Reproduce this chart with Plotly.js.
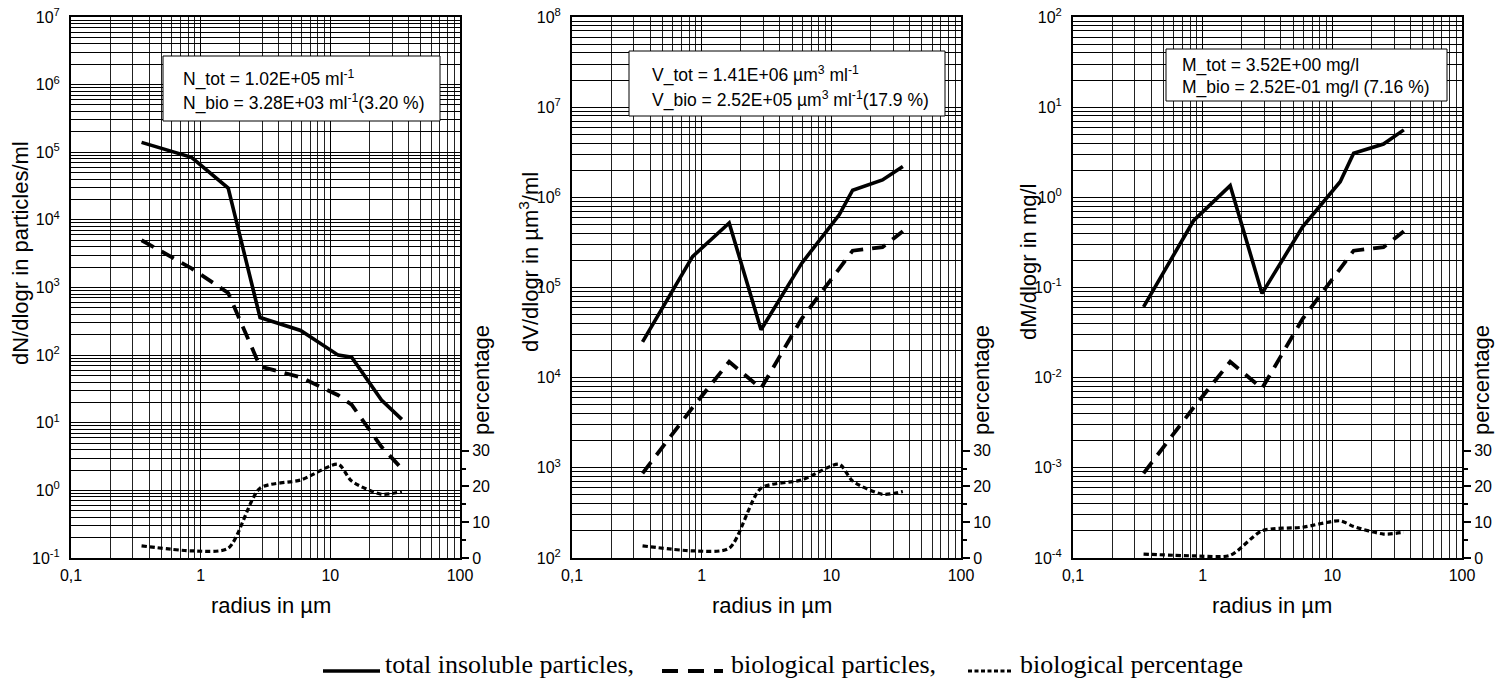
<!DOCTYPE html>
<html><head><meta charset="utf-8">
<script src="https://cdn.plot.ly/plotly-3.0.1.min.js"></script>
<style>html,body{margin:0;padding:0;background:#fff}#chart{width:1502px;height:682px}</style>
</head><body><div id="chart"></div>
<script>
// ---- data ----
const radius = [0.35, 0.85, 1.63, 2.87, 5.9, 11.5, 14.6, 24.8, 35.6];
const numberTotal = [1.4e5, 8.4e4, 2.95e4, 360, 232, 100, 93, 21.7, 11.2];
const numberBio   = [5000, 1920, 830, 68, 47, 25.5, 18.5, 4.4, 2.1];
const numberPct   = [3.4, 2.0, 2.7, 19.5, 21.8, 26.2, 21.5, 17.8, 18.6];
const volumeTotal = [2.5e4, 2.2e5, 5.2e5, 3.4e4, 1.85e5, 6.4e5, 1.2e6, 1.56e6, 2.2e6];
const volumeBio   = [870, 4650, 1.5e4, 7600, 4.5e4, 1.6e5, 2.56e5, 2.8e5, 4.2e5];
const volumePct   = [3.4, 2.0, 2.7, 19.5, 21.8, 26.2, 21.5, 17.8, 18.6];
const massTotal   = [0.061, 0.55, 1.35, 0.086, 0.47, 1.49, 3.08, 3.9, 5.6];
const massBio     = [8.7e-4, 4.65e-3, 0.015, 7.6e-3, 0.045, 0.16, 0.256, 0.28, 0.42];
const massPct     = [1.1, 0.6, 0.75, 7.6, 8.6, 10.4, 8.8, 6.7, 7.2];

const xTickVals = [0.1, 1, 10, 100];
const xTickText = ["0,1", "1", "10", "100"];
const pctTickVals = [0, 10, 20, 30];
const pctMinorVals = [5, 15, 25];
const seriesNames = ["total insoluble particles,", "biological particles,", "biological percentage"];
const yTitles = ["dN/dlogr in particles/ml", "dV/dlogr in µm<sup>3</sup>/ml", "dM/dlogr in mg/l"];
const xTitle = "radius in µm";
const pctTitle = "percentage";
const boxLines = [
  ["N_tot = 1.02E+05 ml<sup>-1</sup>", "N_bio = 3.28E+03 ml<sup>-1</sup>(3.20 %)"],
  ["V_tot = 1.41E+06 µm<sup>3</sup> ml<sup>-1</sup>", "V_bio = 2.52E+05 µm<sup>3</sup> ml<sup>-1</sup>(17.9 %)"],
  ["M_tot = 3.52E+00 mg/l", "M_bio = 2.52E-01 mg/l (7.16 %)"]
];
const decadeRanges = [[-1, 7], [2, 8], [-4, 2]];

// ---- layout helpers ----
const W = 1502, H = 682;
const px = x => x / W, py = y => 1 - y / H;
const SANS = "Liberation Sans, Arial, sans-serif";
const SERIF = "Liberation Serif, Times New Roman, serif";
const panels = [
  {x0: 71, x1: 460, tot: numberTotal, bio: numberBio, pct: numberPct},
  {x0: 572, x1: 961, tot: volumeTotal, bio: volumeBio, pct: volumePct},
  {x0: 1073, x1: 1462, tot: massTotal, bio: massBio, pct: massPct}
];
const yTop = 17, yBot = 558;
const boxes = [
  {x0: 163, x1: 440, y0: 56, y1: 121, tx: 181, l1: 78, l2: 103},
  {x0: 629, x1: 945, y0: 51, y1: 116, tx: 650, l1: 74, l2: 100},
  {x0: 1166, x1: 1447, y0: 49, y1: 101, tx: 1180, l1: 65, l2: 87}
];
const yTitlePos = [[20, 253], [529, 262], [1028, 262]];
const pctTitleX = [482, 982, 1482];
const xTitleX = [271, 772, 1272];

const DASH_BIO = "14px,9px";
const DASH_PCT = "5px,3px";
// legend: [sample x0, sample x1, text x, dash, width]
const legendItems = [
  [323, 380, 383, "solid", 3.5],
  [662, 723, 729, "16px,10px", 4],
  [968, 1011, 1018, "4px,2.5px", 3]
];
const legendLineY = 671;
const legendTextY = 664;

function minorLog(r) {
  const v = [];
  for (let e = r[0]; e < r[1]; e++) for (let k = 2; k <= 9; k++) v.push(k * Math.pow(10, e));
  return v;
}
function majorLog(r) {
  const v = [], t = [];
  for (let e = r[0]; e <= r[1]; e++) { v.push(Math.pow(10, e)); t.push("10<sup>" + e + "</sup>"); }
  return [v, t];
}

const traces = [];
const layout = {
  width: W, height: H,
  margin: {l: 0, r: 0, t: 0, b: 0},
  paper_bgcolor: "#fff", plot_bgcolor: "#fff",
  font: {family: SANS, color: "#000", size: 16},
  showlegend: false,
  shapes: [], annotations: []
};

panels.forEach((p, i) => {
  const n = i + 1;
  const xa = i === 0 ? "x" : "x" + n;
  const ya = i === 0 ? "y" : "y" + n;
  const yp = "y" + (n + 3);
  const [mv, mt] = majorLog(decadeRanges[i]);
  layout[i === 0 ? "xaxis" : "xaxis" + n] = {
    type: "log", domain: [px(p.x0), px(p.x1)], range: [-1, 2], anchor: ya,
    tickmode: "array", tickvals: xTickVals, ticktext: xTickText, ticks: "",
    tickfont: {size: 16, family: SANS}, ticklabelstandoff: 2,
    showgrid: true, gridcolor: "#000", gridwidth: 1,
    minor: {tickmode: "array", tickvals: minorLog([-1, 2]), showgrid: true, gridcolor: "#222", gridwidth: 1, ticks: ""},
    showline: true, linecolor: "#000", linewidth: 2, mirror: true, zeroline: false
  };
  layout[i === 0 ? "yaxis" : "yaxis" + n] = {
    type: "log", domain: [py(yBot), py(yTop)], range: decadeRanges[i], anchor: xa,
    tickmode: "array", tickvals: mv, ticktext: mt, ticks: "",
    tickfont: {size: 16, family: SANS}, ticklabelstandoff: 6,
    showgrid: true, gridcolor: "#000", gridwidth: 1,
    minor: {tickmode: "array", tickvals: minorLog(decadeRanges[i]), showgrid: true, gridcolor: "#000", gridwidth: 1, ticks: ""},
    showline: true, linecolor: "#000", linewidth: 2, mirror: true, zeroline: false
  };
  layout["yaxis" + (n + 3)] = {
    overlaying: ya, side: "right", anchor: xa, range: [0, 151.25],
    tickmode: "array", tickvals: pctTickVals, ticks: "outside", ticklen: 7, tickwidth: 2, tickcolor: "#000",
    minor: {tickmode: "array", tickvals: pctMinorVals, ticks: "outside", ticklen: 4, tickwidth: 2, tickcolor: "#000"},
    tickfont: {size: 16, family: SANS}, showgrid: false, zeroline: false,
    showline: true, linecolor: "#000", linewidth: 2
  };

  traces.push({x: radius, y: p.tot, xaxis: xa, yaxis: ya, mode: "lines", name: seriesNames[0],
    line: {color: "#000", width: 3.6}});
  traces.push({x: radius, y: p.bio, xaxis: xa, yaxis: ya, mode: "lines", name: seriesNames[1],
    line: {color: "#000", width: 3.8, dash: DASH_BIO}});
  traces.push({x: radius, y: p.pct, xaxis: xa, yaxis: yp, mode: "lines", name: seriesNames[2],
    line: {color: "#000", width: 3.2, dash: DASH_PCT, shape: "spline", smoothing: 0.7}});

  const b = boxes[i];
  layout.shapes.push({type: "rect", xref: "paper", yref: "paper", x0: px(b.x0), x1: px(b.x1), y0: py(b.y1), y1: py(b.y0),
    fillcolor: "#fff", line: {color: "#000", width: 1}, layer: "above"});
  layout.annotations.push({xref: "paper", yref: "paper", x: px(b.tx), y: py(b.l1), xanchor: "left", yanchor: "middle",
    text: boxLines[i][0], showarrow: false, font: {size: 17.5, family: SANS, color: "#000"}});
  layout.annotations.push({xref: "paper", yref: "paper", x: px(b.tx), y: py(b.l2), xanchor: "left", yanchor: "middle",
    text: boxLines[i][1], showarrow: false, font: {size: 17.5, family: SANS, color: "#000"}});
  layout.annotations.push({xref: "paper", yref: "paper", x: px(yTitlePos[i][0]), y: py(yTitlePos[i][1]),
    xanchor: "center", yanchor: "middle", textangle: -90, text: yTitles[i], showarrow: false,
    font: {size: 22, family: SANS, color: "#000"}});
  layout.annotations.push({xref: "paper", yref: "paper", x: px(pctTitleX[i]), y: py(380),
    xanchor: "center", yanchor: "middle", textangle: -90, text: pctTitle, showarrow: false,
    font: {size: 22, family: SANS, color: "#000"}});
  layout.annotations.push({xref: "paper", yref: "paper", x: px(xTitleX[i]), y: py(605),
    xanchor: "center", yanchor: "middle", text: xTitle, showarrow: false,
    font: {size: 22, family: SANS, color: "#000"}});
});

// bottom legend (drawn as line samples + text)
legendItems.forEach((it, k) => {
  layout.shapes.push({type: "line", xref: "paper", yref: "paper", x0: px(it[0]), x1: px(it[1]), y0: py(legendLineY), y1: py(legendLineY),
    line: {color: "#000", width: it[4], dash: it[3]}});
  layout.annotations.push({xref: "paper", yref: "paper", x: px(it[2]), y: py(legendTextY), xanchor: "left", yanchor: "middle",
    text: seriesNames[k], showarrow: false, font: {size: 26, family: SERIF, color: "#000"}});
});

Plotly.newPlot("chart", traces, layout, {displayModeBar: false, staticPlot: true});
</script>
</body></html>
